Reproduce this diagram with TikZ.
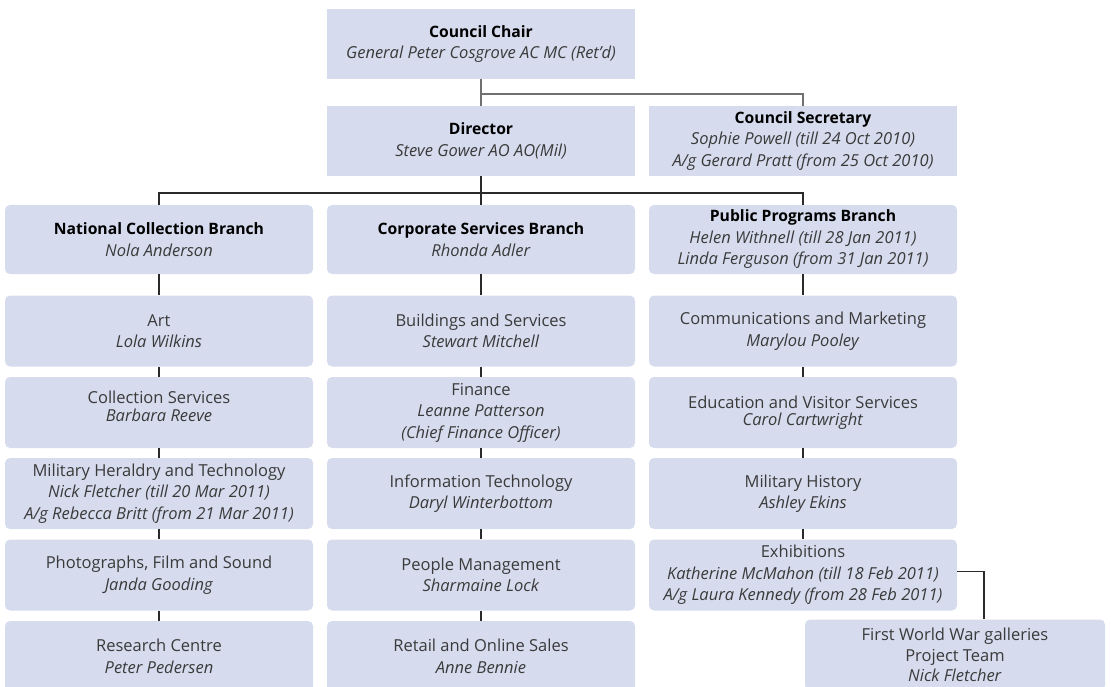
\documentclass[tikz,border=0pt]{standalone}
\usepackage{fontspec}
\setmainfont{Open Sans}
\definecolor{boxfill}{HTML}{D6DCEE}
\definecolor{txtgray}{HTML}{3A3A3A}
\definecolor{topline}{HTML}{707070}
\definecolor{lowline}{HTML}{2A2A2A}
\newcommand{\hd}[1]{{\fontsize{15.7}{21.5}\selectfont\bfseries\color{black}#1}}
\begin{document}
\begin{tikzpicture}[x=1pt,y=-1pt,
  sqbox/.style={fill=boxfill, minimum width=308pt, minimum height=71pt, inner sep=0pt,
    align=center, text=txtgray, font=\fontsize{16.5}{21.5}\selectfont},
  rbox/.style={sqbox, rounded corners=5pt},
  tight/.style={font=\fontsize{16.5}{17.5}\selectfont},
  lbl/.style={align=center, text=txtgray, inner sep=0pt, font=\fontsize{16.5}{17.5}\selectfont},
  topconn/.style={draw=topline, line width=1.1pt},
  conn/.style={draw=lowline, line width=1.1pt}]
\useasboundingbox (0,0) rectangle (1111,687);

% top level
\node[sqbox, minimum height=70pt] (chair) at (481,44) {\hd{Council Chair}\\\textit{General Peter Cosgrove AC MC (Ret’d)}};
\node[sqbox, minimum height=70pt] (dir) at (481,141) {\hd{Director}\\\textit{Steve Gower AO AO(Mil)}};
\node[sqbox, minimum height=70pt] (sec) at (803,141) {\hd{Council Secretary}\\\textit{Sophie Powell (till 24 Oct 2010)}\\\textit{A/g Gerard Pratt (from 25 Oct 2010)}};

% branches
\node[rbox, minimum height=69pt] (ncb) at (159,239.5) {\hd{National Collection Branch}\\\textit{Nola Anderson}};
\node[rbox, minimum height=69pt] (csb) at (481,239.5) {\hd{Corporate Services Branch}\\\textit{Rhonda Adler}};
\node[rbox, minimum height=69pt] (ppb) at (803,239.5) {\hd{Public Programs Branch}\\\textit{Helen Withnell (till 28 Jan 2011)}\\\textit{Linda Ferguson (from 31 Jan 2011)}};

% column 1
\node[rbox] (art) at (159,331) {Art\\\textit{Lola Wilkins}};
\node[rbox, label={[lbl, yshift=6pt]center:{Collection Services\\\textit{Barbara Reeve}}}] (colsvc) at (159,412.5) {};
\node[rbox] (mht) at (159,493.5) {Military Heraldry and Technology\\\textit{Nick Fletcher (till 20 Mar 2011)}\\\textit{A/g Rebecca Britt (from 21 Mar 2011)}};
\node[rbox] (pfs) at (159,575) {Photographs, Film and Sound\\\textit{Janda Gooding}};
\node[rbox] (rc) at (159,656.5) {Research Centre\\\textit{Peter Pedersen}};

% column 2
\node[rbox] (bas) at (481,331) {Buildings and Services\\\textit{Stewart Mitchell}};
\node[rbox] (fin) at (481,412.5) {Finance\\\textit{Leanne Patterson}\\\textit{(Chief Finance Officer)}};
\node[rbox] (it) at (481,493.5) {Information Technology\\\textit{Daryl Winterbottom}};
\node[rbox] (pm) at (481,575) {People Management\\\textit{Sharmaine Lock}};
\node[rbox] (ros) at (481,656.5) {Retail and Online Sales\\\textit{Anne Bennie}};

% column 3
\node[rbox] (cam) at (803,331) {Communications and Marketing\\\textit{Marylou Pooley}};
\node[rbox, tight] (evs) at (803,412.5) {Education and Visitor Services\\\textit{Carol Cartwright}};
\node[rbox] (mh) at (803,493.5) {Military History\\\textit{Ashley Ekins}};
\node[rbox] (exh) at (803,575) {Exhibitions\\\textit{Katherine McMahon (till 18 Feb 2011)}\\\textit{A/g Laura Kennedy (from 28 Feb 2011)}};
\node[rbox, minimum width=300pt, font=\fontsize{16.5}{20.5}\selectfont] (fww) at (955,655) {First World War galleries\\Project Team\\\textit{Nick Fletcher}};

% connectors top
\coordinate (j1) at (481,94);
\draw[topconn] (chair) -- (dir);
\draw[topconn] (j1) -| (sec.north);

% connectors to branches
\coordinate (j2) at (481,193);
\draw[conn] (dir) -- (csb);
\draw[conn] (ncb.north) |- (j2) -| (ppb.north);

% column connectors
\draw[conn] (ncb) -- (art);
\draw[conn] (art) -- (colsvc);
\draw[conn] (colsvc) -- (mht);
\draw[conn] (mht) -- (pfs);
\draw[conn] (pfs) -- (rc);
\draw[conn] (csb) -- (bas);
\draw[conn] (bas) -- (fin);
\draw[conn] (fin) -- (it);
\draw[conn] (it) -- (pm);
\draw[conn] (pm) -- (ros);
\draw[conn] (ppb) -- (cam);
\draw[conn] (cam) -- (evs);
\draw[conn] (evs) -- (mh);
\draw[conn] (mh) -- (exh);
\draw[conn] ([yshift=3.5pt]exh.east) -| ([xshift=29pt]fww.north);
\end{tikzpicture}
\end{document}
